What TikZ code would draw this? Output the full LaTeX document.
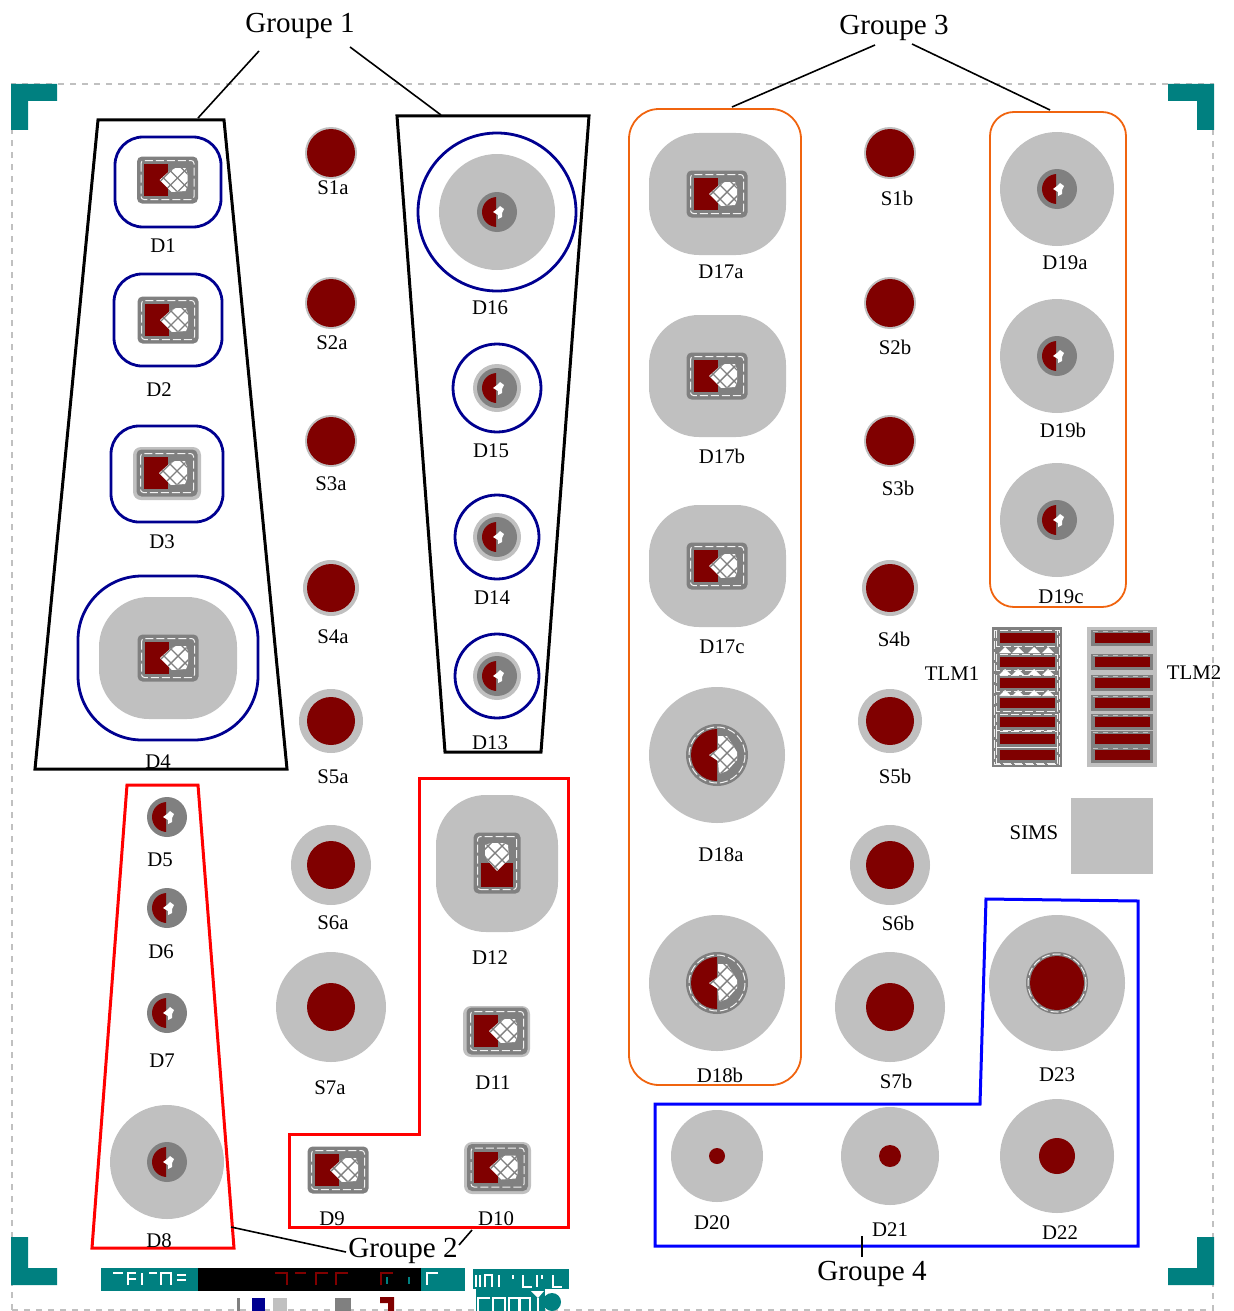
\documentclass[tikz,border=0pt]{standalone}
\usepackage{fontspec}
\setmainfont{Liberation Serif}
\definecolor{lgr}{HTML}{C0C0C0}
\definecolor{mgr}{HTML}{808080}
\definecolor{dred}{HTML}{800000}
\definecolor{nvy}{HTML}{000090}
\definecolor{tealc}{HTML}{008080}
\definecolor{orng}{HTML}{F0640F}
\tikzset{
 lab/.style={inner sep=0pt,font=\fontsize{10.4}{12}\selectfont},
 grp/.style={inner sep=0pt,font=\fontsize{14.55}{16}\selectfont},
 bluering/.style={draw=nvy,line width=1.4pt},
 zone/.style={line width=1.5pt,line join=miter},
 leader/.style={draw=black,line width=0.8pt},
 frame/.style={draw=lgr,line width=0.7pt,dash pattern=on 3pt off 3pt},
 hatch/.style={draw=mgr,line width=0.7pt},
 whitedash/.style={draw=white!90!mgr,line width=0.5pt,dash pattern=on 4pt off 1.5pt},
 glyphw/.style={draw=white,line width=0.8pt},
 glyphr/.style={draw=dred,line width=0.8pt},
}
\newcommand{\hatchlines}{%
 \foreach \k in {-44,-30,...,40}{\draw[hatch] (\k-30,-30)--(\k+30,30);\draw[hatch] (\k-34,30)--(\k+26,-30);}}
\newcommand{\rectdev}[3][0]{%
 \begin{scope}[shift={(#2,#3)},rotate=#1]
  \fill[mgr,rounded corners=2.5pt] (-30.5,-23.5) rectangle (30.5,23.5);
  \draw[whitedash,rounded corners=1.5pt] (-26.5,-19.5) rectangle (26.5,19.5);
  \fill[dred] (-23.5,-16) rectangle (0.5,15.5);
  \begin{scope}
   \clip (-8,0)--(2,-9)--(8,-12)--(18,-12)--(20,-6)--(20,6)--(18,11)--(4,12)--(1,9)--cycle;
   \fill[white] (-30,-30) rectangle (30,30);
   \hatchlines
  \end{scope}
 \end{scope}}
\newcommand{\bigdev}[2]{%
 \begin{scope}[shift={(#1,#2)}]
  \fill[mgr] (0,0) circle (31);
  \draw[whitedash] (0,0) circle (28);
  \begin{scope}\clip (-30,-30) rectangle (0,30);\fill[dred] (0,0) circle (26);\end{scope}
  \begin{scope}
   \clip (-8,0)--(1,-6)--(1,-19)--(10,-19)--(20,-3)--(20,5)--(10,16)--(2,19)--(1,6)--cycle;
   \fill[white] (-30,-30) rectangle (30,30);
   \hatchlines
  \end{scope}
 \end{scope}}
\newcommand{\smalldev}[2]{%
 \begin{scope}[shift={(#1,#2)}]
  \fill[mgr] (0,0) circle (20);
  \begin{scope}\clip (-20,-20) rectangle (-1,20);\fill[dred] (0,0) circle (15);\end{scope}
  \fill[white] (-4,0)--(0,-3)--(3,-6)--(7,-3)--(5,1)--(5,5)--(1,7)--(1,3)--cycle;
 \end{scope}}
\newcommand{\padS}[3]{\fill[lgr] (#1,#2) circle (#3);\fill[dred] (#1,#2) circle (24);}
\newcommand{\lab}[3]{\node[lab] (l#3) at (#1,#2+1) {#3};}
\newcommand{\tlmbar}[1]{\fill[dred] (-27.5,#1-5) rectangle (27.5,#1+5);}
\newcommand{\tlmA}[1]{\draw[whitedash] (-30.5,#1-8) rectangle (30.5,#1+8);\tlmbar{#1}}
\newcommand{\tlmB}[1]{\fill[mgr] (-31,#1-8) rectangle (31,#1+8);\draw[draw=lgr,line width=0.4pt,dash pattern=on 2.5pt off 2.5pt] (-29,#1-6.5)--(29,#1-6.5);\tlmbar{#1}}
\newcommand{\tlmtri}[1]{\foreach \xx in {-22,-9,7,21}{\fill[white] (\xx-6,#1+3)--(\xx,#1-3)--(\xx+6,#1+3)--cycle;}}
\begin{document}
\begin{tikzpicture}[x=0.5pt,y=-0.5pt]
\useasboundingbox (0,0) rectangle (1233,1311);
% page frame
\draw[frame] (12,1310)--(12,84)--(1213,84)--(1213,1310)--cycle;
% corners
\fill[tealc] (11,84)--(57,84)--(57,101)--(28,101)--(28,130)--(11,130)--cycle;
\fill[tealc] (1214,84)--(1168,84)--(1168,101)--(1197,101)--(1197,130)--(1214,130)--cycle;
\fill[tealc] (11,1237)--(28,1237)--(28,1268)--(57,1268)--(57,1285)--(11,1285)--cycle;
\fill[tealc] (1214,1237)--(1197,1237)--(1197,1268)--(1168,1268)--(1168,1285)--(1214,1285)--cycle;
% Group 1 left
\draw[bluering,rounded corners=14pt] (115,137) rectangle (221,227);
\rectdev{167.5}{180}
\draw[bluering,rounded corners=14pt] (114,274) rectangle (222,366);
\rectdev{168}{320}
\fill[lgr,rounded corners=4pt] (133,447) rectangle (201,500);
\draw[bluering,rounded corners=14pt] (111,426) rectangle (223,522);
\rectdev{167}{473}
\fill[lgr,rounded corners=25pt] (99,597) rectangle (237,719);
\draw[bluering,rounded corners=32pt] (78,576) rectangle (258,740);
\rectdev{168}{658}
% Group 1 right
\fill[lgr] (497,212) circle (58);
\draw[bluering] (497,212) circle (79);
\smalldev{497}{212}
\fill[lgr] (497,388) circle (24);
\draw[bluering] (497,388) circle (44);
\smalldev{497}{388}
\fill[lgr] (497,537) circle (24);
\draw[bluering] (497,537) circle (42);
\smalldev{497}{537}
\fill[lgr] (497,676) circle (24);
\draw[bluering] (497,676) circle (42);
\smalldev{497}{676}
% S pads
\padS{331}{153}{26} \padS{331}{303}{26} \padS{331}{441}{26} \padS{331}{588}{28}
\padS{331}{721}{32} \padS{331}{865}{40} \padS{331}{1007}{55}
\padS{890}{153}{26} \padS{890}{303}{26} \padS{890}{441}{26} \padS{890}{588}{28}
\padS{890}{721}{32} \padS{890}{865}{40} \padS{890}{1007}{55}
% Group 2
\smalldev{167}{817}
\smalldev{167}{908}
\smalldev{167}{1013}
\fill[lgr] (167,1162) circle (57); \smalldev{167}{1162}
\fill[lgr,rounded corners=25pt] (436,795) rectangle (558,932);
\rectdev[90]{497}{863}
\fill[lgr,rounded corners=4pt] (463,1006) rectangle (530,1057);
\rectdev{497}{1031}
\fill[lgr,rounded corners=4pt] (464,1142) rectangle (531,1194);
\rectdev{497.5}{1167.5}
\rectdev{338}{1170}
% Group 3
\foreach \yy in {194,376,566}{
 \fill[lgr,rounded corners=25pt] (649,\yy-61) rectangle (786,\yy+61);
 \rectdev{717}{\yy}}
\fill[lgr] (717,755) circle (68); \bigdev{717}{755}
\fill[lgr] (717,983) circle (68); \bigdev{717}{983}
\foreach \yy in {189,356,520}{\fill[lgr] (1057,\yy) circle (57); \smalldev{1057}{\yy}}
% TLM
\begin{scope}[shift={(1027,0)}]
 \fill[mgr] (-35,627) rectangle (35,767);
 \draw[whitedash] (-32.5,630) rectangle (32.5,764);
 \tlmtri{650}\tlmtri{672}\tlmtri{693}
 \foreach \yy in {638,662,683,703,722,739,755}{\tlmA{\yy}}
\end{scope}
\begin{scope}[shift={(1122,0)}]
 \fill[lgr] (-35,627) rectangle (35,767);
 \foreach \yy in {638,662,683,703,722,739,755}{\tlmB{\yy}}
\end{scope}
\fill[lgr] (1071,798) rectangle (1153,874);
% Group 4
\fill[lgr] (717,1156) circle (46); \fill[dred] (717,1156) circle (8);
\fill[lgr] (890,1156) circle (49); \fill[dred] (890,1156) circle (11);
\fill[lgr] (1057,1156) circle (57); \fill[dred] (1057,1156) circle (18);
\fill[lgr] (1057,983) circle (68);
\fill[mgr] (1057,983) circle (31);
\draw[whitedash] (1057,983) circle (29);
\fill[dred] (1057,983) circle (27);
% zones
\draw[zone,black] (98,120)--(224,120)--(287,769)--(35,769)--cycle;
\draw[zone,black] (397,116)--(589,116)--(541,752)--(445,752)--cycle;
\draw[zone,red] (127,785)--(198,785)--(234,1248)--(92,1248)--cycle;
\draw[zone,red] (419,778)--(568,778)--(568,1227)--(289,1227)--(289,1134)--(419,1134)--cycle;
\draw[line width=0.9pt,orng,rounded corners=15pt] (629,109) rectangle (801,1085);
\draw[line width=0.9pt,orng,rounded corners=12pt] (990,112) rectangle (1126,607);
\draw[zone,blue] (986,899)--(1138,901)--(1138,1246)--(655,1246)--(655,1104)--(980,1104)--cycle;
% labels
\lab{163}{245}{D1}\lab{159}{389}{D2}\lab{162}{541}{D3}\lab{158}{761}{D4}
\lab{333}{187}{S1a}\lab{332}{342}{S2a}\lab{331}{483}{S3a}\lab{333}{636}{S4a}
\lab{333}{776}{S5a}\lab{333}{922}{S6a}\lab{330}{1087}{S7a}
\lab{490}{307}{D16}\lab{491}{450}{D15}\lab{492}{597}{D14}\lab{490}{742}{D13}
\lab{160}{859}{D5}\lab{161}{951}{D6}\lab{162}{1060}{D7}\lab{159}{1240}{D8}
\lab{490}{957}{D12}\lab{493}{1082}{D11}\lab{496}{1218}{D10}\lab{332}{1218}{D9}
\lab{721}{271}{D17a}\lab{722}{455}{D17b}\lab{722}{646}{D17c}
\lab{721}{854}{D18a}\lab{720}{1074}{D18b}
\lab{897}{197}{S1b}\lab{895}{346}{S2b}\lab{898}{487}{S3b}\lab{894}{638}{S4b}
\lab{895}{775}{S5b}\lab{898}{922}{S6b}\lab{896}{1080}{S7b}
\lab{1065}{262}{D19a}\lab{1063}{429}{D19b}\lab{1061}{596}{D19c}
\lab{952}{673}{TLM1}\lab{1194}{672}{TLM2}\lab{1034}{832}{SIMS}
\lab{1057}{1074}{D23}\lab{712}{1222}{D20}\lab{890}{1229}{D21}\lab{1060}{1232}{D22}
% group labels and leaders
\node[grp] (g1) at (300,26) {Groupe 1};
\node[grp] (g3) at (894,28) {Groupe 3};
\node[grp] (g2) at (403,1251) {Groupe 2};
\node[grp] (g4) at (872,1274) {Groupe 4};
\coordinate (g1a) at (259,51); \coordinate (z1a) at (198,118);
\coordinate (g1b) at (350,47); \coordinate (z1b) at (441,115);
\coordinate (g3a) at (875,45); \coordinate (z3a) at (732,107);
\coordinate (g3b) at (912,44); \coordinate (z3b) at (1050,110);
\coordinate (g2a) at (346,1252); \coordinate (z2a) at (231,1227);
\coordinate (g2b) at (459,1245); \coordinate (z2b) at (472,1230);
\coordinate (g4a) at (862,1257); \coordinate (z4a) at (862,1236);
\draw[leader] (g1a)--(z1a); \draw[leader] (g1b)--(z1b);
\draw[leader] (g3a)--(z3a); \draw[leader] (g3b)--(z3b);
\draw[leader] (g2a)--(z2a); \draw[leader] (g2b)--(z2b);
\draw[leader] (g4a)--(z4a);
% title block
\fill[tealc] (101,1268) rectangle (465,1291);
\fill[black] (198,1268) rectangle (421,1291);
\draw[glyphw] (113,1273)--(123,1273) (128,1285)--(128,1273)--(136,1273) (128,1279)--(136,1279) (142,1273)--(142,1285)
 (149,1273)--(157,1273) (161,1285)--(161,1273)--(171,1273)--(171,1285) (177,1275)--(186,1275) (177,1280)--(186,1280);
\draw[glyphr] (275,1273)--(287,1273)--(287,1285) (295,1273)--(306,1273) (316,1285)--(316,1273)--(328,1273)
 (336,1285)--(336,1273)--(348,1273) (381,1285)--(381,1273)--(393,1273);
\draw[tealc,line width=0.6pt] (387,1277)--(387,1284) (409,1277)--(409,1284);
\draw[glyphw] (427,1285)--(427,1273)--(438,1273);
% stray bars
\fill[mgr] (237,1298) rectangle (240,1311);
\fill[nvy] (252,1298) rectangle (265,1311);
\fill[lgr] (273,1298) rectangle (287,1311);
\fill[mgr] (335,1298) rectangle (351,1311);
\fill[dred] (380,1297)--(394,1297)--(394,1311)--(388,1311)--(388,1303)--(380,1303)--cycle;
% logo
\fill[tealc] (473,1269) rectangle (569,1289);
\fill[tealc] (476,1289) rectangle (545,1311);
\fill[tealc] (552,1302) circle (9);
\fill[white] (531,1291)--(544,1291)--(538,1298)--cycle;
\draw[glyphw] (476,1275)--(476,1287) (480,1275)--(480,1287) (485,1287)--(485,1275)--(492,1275)--(492,1287) (499,1275)--(499,1287)
 (513,1275)--(513,1279) (523,1275)--(523,1287)--(532,1287) (537,1275)--(537,1287) (542,1275)--(542,1279) (553,1275)--(553,1287)--(562,1287);
\draw[draw=white,line width=1.4pt] (490,1298)--(478,1298)--(478,1311)
 (493,1311)--(493,1298)--(505,1298)--(505,1311) (509,1311)--(509,1298)--(530,1298)--(530,1311) (519.5,1298)--(519.5,1311) (538,1298)--(538,1311);
\end{tikzpicture}
\end{document}
